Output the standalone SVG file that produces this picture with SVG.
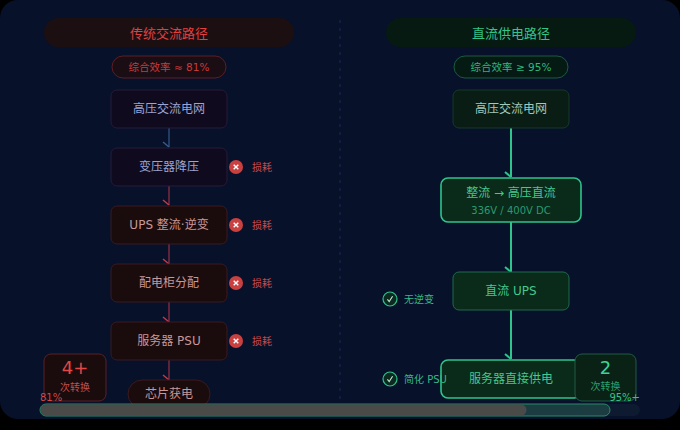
<svg xmlns="http://www.w3.org/2000/svg" width="680" height="430" viewBox="0 0 680 430">
<defs>
<style>
text{font-family:"DejaVu Sans","Noto Sans CJK SC",sans-serif;dominant-baseline:central;text-anchor:middle}
.hdrL{fill:#1c0f12}
.hdrR{fill:#061a12}
.pn{fill:#100a1f;stroke:#261a3a;stroke-width:1}
.rn{fill:#1a0b0d;stroke:#3a1a20;stroke-width:1}
.gn{fill:#0a1d14;stroke:#153a2a;stroke-width:1}
.gh{fill:#0a2a1a;stroke:#2ec48c;stroke-width:1.6}
.gm{fill:#0a2a1a;stroke:#1e6a4c;stroke-width:1}
.tp{fill:#9aa4d4;font-size:12px}
.tr{fill:#c89898;font-size:12px}
.tg{fill:#a0c8bc;font-size:12px}
.th{fill:#46c88e;font-size:12px}
.loss{fill:#d04848;font-size:10px;text-anchor:start}
.ok{fill:#35b888;font-size:10px;text-anchor:start}
.cL{stroke:#7a2a40;stroke-width:1.5;fill:none}
.cB{stroke:#2d4a7a;stroke-width:1.5;fill:none}
.cG{stroke:#2ec48c;stroke-width:2;fill:none}
</style>
<marker id="aR" markerUnits="userSpaceOnUse" markerWidth="14" markerHeight="14" refX="7" refY="7" orient="auto" overflow="visible"><path d="M2,13 L7,7" stroke="#c03a4a" stroke-width="1.5" fill="none"/></marker>
<marker id="aB" markerUnits="userSpaceOnUse" markerWidth="14" markerHeight="14" refX="7" refY="7" orient="auto" overflow="visible"><path d="M2,13 L7,7" stroke="#3a5a90" stroke-width="1.5" fill="none"/></marker>
<marker id="aG" markerUnits="userSpaceOnUse" markerWidth="14" markerHeight="14" refX="7" refY="7" orient="auto" overflow="visible"><path d="M2,13 L7,7" stroke="#2ec48c" stroke-width="2" fill="none"/></marker>
<g id="xmark"><circle r="7" fill="#c94040"/><path d="M-2.3,-2.3 L2.3,2.3 M2.3,-2.3 L-2.3,2.3" stroke="#fff" stroke-width="1.4"/></g>
<g id="vmark"><circle r="7" fill="#0c2a20" stroke="#2ec48c" stroke-width="1.2"/><path d="M-2.6,0.4 L-0.8,2.6 L2.6,-2.8" stroke="#bfe8d4" stroke-width="1.1" fill="none"/></g>
</defs>
<rect x="0" y="0" width="680" height="430" fill="#000"/>
<rect x="0" y="0" width="680" height="419" rx="18" fill="#07112a"/>
<line x1="340" y1="20" x2="340" y2="400" stroke="#1a2a52" stroke-width="1" stroke-dasharray="3 5"/>

<g id="left-header">
<rect class="hdrL" x="44" y="18" width="250" height="29" rx="14.5"/>
<text x="169" y="33" fill="#e04040" font-size="13">传统交流路径</text>
</g>
<g id="left-eff">
<rect x="112" y="56" width="114" height="22" rx="11" fill="#1a0e14" stroke="#5c1e24"/>
<text x="169" y="67" fill="#c83a3a" font-size="10.5">综合效率 ≈ 81%</text>
</g>
<g id="right-header">
<rect class="hdrR" x="386" y="18" width="250" height="29" rx="14.5"/>
<text x="511" y="33" fill="#35c488" font-size="13">直流供电路径</text>
</g>
<g id="right-eff">
<rect x="454" y="56" width="114" height="22" rx="11" fill="#061a14" stroke="#1b5a40"/>
<text x="511" y="67" fill="#2fb57e" font-size="10.5">综合效率 ≥ 95%</text>
</g>

<g id="connectors">
<path class="cB" d="M169,128 V147" marker-end="url(#aB)"/>
<path class="cL" d="M169,186 V205" marker-end="url(#aR)"/>
<path class="cL" d="M169,244 V264" marker-end="url(#aR)"/>
<path class="cL" d="M169,302 V322" marker-end="url(#aR)"/>
<path class="cL" d="M169,360 V380" marker-end="url(#aR)"/>
<path class="cG" d="M511,128 V177" marker-end="url(#aG)"/>
<path class="cG" d="M511,222 V272" marker-end="url(#aG)"/>
<path class="cG" d="M511,310 V359" marker-end="url(#aG)"/>
</g>

<g id="l-grid">
<rect class="pn" x="111" y="90" width="116" height="38" rx="6"/>
<text class="tp" x="169" y="109">高压交流电网</text>
</g>
<g id="l-transformer">
<rect class="pn" x="111" y="148" width="116" height="38" rx="6"/>
<text class="tp" x="169" y="167">变压器降压</text>
<use href="#xmark" x="236" y="167"/>
<text class="loss" x="252" y="167">损耗</text>
</g>
<g id="l-ups">
<rect class="rn" x="111" y="206" width="116" height="38" rx="6"/>
<text class="tr" x="169" y="225">UPS 整流·逆变</text>
<use href="#xmark" x="236" y="225"/>
<text class="loss" x="252" y="225">损耗</text>
</g>
<g id="l-pdu">
<rect class="rn" x="111" y="264" width="116" height="38" rx="6"/>
<text class="tr" x="169" y="283">配电柜分配</text>
<use href="#xmark" x="236" y="283"/>
<text class="loss" x="252" y="283">损耗</text>
</g>
<g id="l-psu">
<rect class="rn" x="111" y="322" width="116" height="38" rx="6"/>
<text class="tr" x="169" y="341">服务器 PSU</text>
<use href="#xmark" x="236" y="341"/>
<text class="loss" x="252" y="341">损耗</text>
</g>
<g id="l-chip">
<rect class="rn" x="128" y="380" width="82" height="28" rx="14"/>
<text class="tr" x="169" y="394" font-size="11.5">芯片获电</text>
</g>
<g id="l-count">
<rect x="44" y="354" width="62" height="47" rx="7" fill="#1a0b0d" stroke="#5a2028"/>
<text x="75" y="367" fill="#e04848" font-size="18">4+</text>
<text x="75" y="387" fill="#c05050" font-size="10">次转换</text>
</g>

<g id="r-grid">
<rect class="gn" x="453" y="90" width="116" height="38" rx="6"/>
<text class="tg" x="511" y="109">高压交流电网</text>
</g>
<g id="r-rect">
<rect class="gh" x="441" y="178" width="140" height="44" rx="7"/>
<text class="th" x="511" y="193">整流 → 高压直流</text>
<text x="511" y="210" fill="#2a9a70" font-size="10">336V / 400V DC</text>
</g>
<g id="r-ups">
<rect class="gm" x="453" y="272" width="116" height="38" rx="6"/>
<text class="th" x="511" y="291" fill="#4cc094">直流 UPS</text>
<use href="#vmark" x="390" y="299"/>
<text class="ok" x="404" y="299">无逆变</text>
</g>
<g id="r-server">
<rect class="gh" x="441" y="360" width="140" height="38" rx="7"/>
<text class="th" x="511" y="379">服务器直接供电</text>
<use href="#vmark" x="390" y="379"/>
<text class="ok" x="404" y="379">简化 PSU</text>
</g>
<g id="r-count">
<rect x="575" y="354" width="61" height="47" rx="7" fill="#0a2216" stroke="#1f5a44"/>
<text x="605.5" y="367" fill="#3ad49a" font-size="18">2</text>
<text x="605.5" y="386" fill="#2aa070" font-size="10">次转换</text>
</g>

<g id="bar">
<rect x="40" y="404" width="600" height="12" rx="6" fill="#0e1a30"/>
<rect x="40" y="404" width="570" height="12" rx="6" fill="#1b3c40" stroke="#2a8a6a" stroke-width="1"/>
<rect x="40.5" y="404.5" width="486" height="11" rx="5.5" fill="#4a4a48"/>
<text x="40" y="397" fill="#d04848" font-size="10" style="text-anchor:start">81%</text>
<text x="640" y="397" fill="#35c488" font-size="10" style="text-anchor:end">95%+</text>
</g>
</svg>
